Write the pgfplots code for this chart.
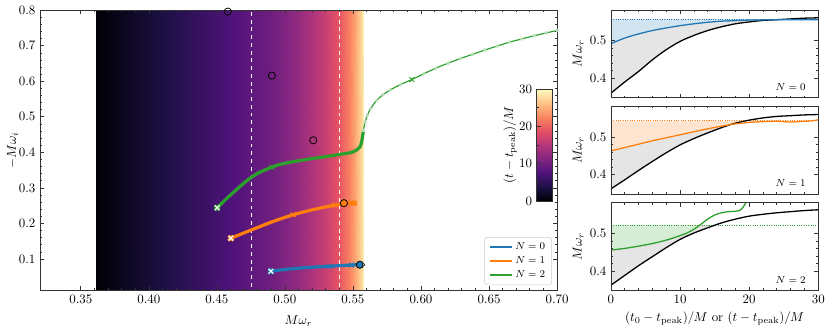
\documentclass[border=0pt]{standalone}
\usepackage{pgfplots}
\pgfplotsset{compat=1.18}
\usepackage{pgfplotstable}
\definecolor{C0}{HTML}{1F77B4}
\definecolor{C1}{HTML}{FF7F0E}
\definecolor{C2}{HTML}{2CA02C}
\pgfplotsset{
  colormap={magma}{rgb255=(0,0,4) rgb255=(28,16,68) rgb255=(79,18,123) rgb255=(129,37,129) rgb255=(181,54,122) rgb255=(229,80,100) rgb255=(251,135,97) rgb255=(254,194,135) rgb255=(252,253,191)},
  mystyle/.style={scale only axis, tick align=inside, major tick length=3pt, minor tick length=1.6pt,
    every tick/.append style={black!80, line width=0.5pt},
    axis line style={black!80, line width=0.6pt}},
  rstyle/.style={mystyle, axis on top, width=160.7pt, height=68pt, xmin=0, xmax=30, ymin=0.348, ymax=0.582,
    xtick={0,10,20,30}, ytick={0.4,0.5}, yticklabels={$0.4$,$0.5$}, minor x tick num=4, minor y tick num=4,
    ylabel={$M\omega_r$}, ylabel style={yshift=-2pt}},
}
% black curves (one per panel)
\pgfplotstableread{
t w
0 0.360
2 0.390
4 0.418
6 0.449
8 0.476
10 0.498
12 0.514
14 0.527
16 0.537
18 0.545
20 0.550
22 0.554
24 0.556
26 0.558
28 0.560
30 0.561
}\blackA
\pgfplotstableread{
t w
0 0.362
2 0.386
4 0.411
6 0.435
8 0.458
10 0.479
12 0.496
14 0.511
16 0.525
18 0.537
20 0.545
22 0.551
24 0.555
26 0.557
28 0.559
30 0.560
}\blackB
\pgfplotstableread{
t w
0 0.362
2 0.388
4 0.414
6 0.438
8 0.462
10 0.484
12 0.501
14 0.515
16 0.528
18 0.538
20 0.546
22 0.551
24 0.555
26 0.558
28 0.561
30 0.563
}\blackC
\pgfplotstableread{
t w
0 0.492
2 0.507
4 0.518
6 0.527
8 0.534
10 0.540
12 0.545
14 0.549
16 0.552
18 0.5535
20 0.555
22 0.5555
24 0.556
26 0.556
28 0.556
30 0.556
}\bluedata
\pgfplotstableread{
t w
0 0.463
2 0.472
4 0.481
6 0.490
8 0.498
10 0.506
12 0.514
14 0.522
16 0.529
18 0.535
20 0.539
22 0.541
24 0.542
25 0.541
26 0.540
27 0.541
28 0.542
29 0.543
30 0.546
}\orangedata
\pgfplotstableread{
t w
0 0.4555
2 0.460
4 0.466
6 0.473
8 0.482
10 0.494
11 0.501
12 0.511
13 0.524
14 0.538
15 0.549
16 0.555
17 0.558
18 0.559
18.7 0.562
19.2 0.572
19.6 0.585
}\greendata
\begin{document}
\begin{tikzpicture}
\useasboundingbox (0,0) rectangle (643.4pt,255pt);
% ---------------- main axis ----------------
\begin{axis}[mystyle, name=main, at={(31pt,30pt)}, anchor=south west, width=400.8pt, height=217.1pt,
  xmin=0.32, xmax=0.70, ymin=0.012, ymax=0.80,
  xtick={0.35,0.40,0.45,0.50,0.55,0.60,0.65,0.70},
  xticklabels={$0.35$,$0.40$,$0.45$,$0.50$,$0.55$,$0.60$,$0.65$,$0.70$},
  ytick={0.1,0.2,0.3,0.4,0.5,0.6,0.7,0.8},
  yticklabels={$0.1$,$0.2$,$0.3$,$0.4$,$0.5$,$0.6$,$0.7$,$0.8$},
  minor x tick num=4, minor y tick num=4,
  xlabel={$M\omega_r$}, ylabel={$-M\omega_i$},
  xlabel style={yshift=-3pt}, ylabel style={yshift=-6pt},
  colormap name=magma, point meta min=0, point meta max=30,
  axis on top,
  legend style={at={(0.99,0.018)}, anchor=south east, font=\footnotesize, rounded corners=2pt,
    draw=black!20, fill=white, fill opacity=0.8, text opacity=1, draw opacity=1},
  legend cell align=left]
\addplot[surf, shader=interp, point meta=explicit, forget plot] table[meta=t]{
x y t
0.361 0 0
0.387 0 2
0.414 0 4
0.441 0 6
0.467 0 8
0.491 0 10
0.506 0 12
0.518 0 14
0.528 0 16
0.536 0 18
0.542 0 20
0.547 0 22
0.551 0 24
0.554 0 26
0.5565 0 28
0.558 0 30

0.361 0.9 0
0.387 0.9 2
0.414 0.9 4
0.441 0.9 6
0.467 0.9 8
0.491 0.9 10
0.506 0.9 12
0.518 0.9 14
0.528 0.9 16
0.536 0.9 18
0.542 0.9 20
0.547 0.9 22
0.551 0.9 24
0.554 0.9 26
0.5565 0.9 28
0.558 0.9 30
};
\addplot[white, dashed, line width=0.6pt, forget plot] coordinates {(0.4755,0) (0.4755,0.9)};
\addplot[white, dashed, line width=0.6pt, forget plot] coordinates {(0.540,0) (0.540,0.9)};
% N=2 thin late-time branch
\addplot[C2, line width=0.9pt, smooth, mark=*, mark size=0.9pt, mark options={C2!35, draw=none}, forget plot] coordinates {
(0.5576,0.462) (0.559,0.485) (0.5605,0.504) (0.563,0.523) (0.5674,0.546) (0.572,0.562) (0.5772,0.575)
(0.585,0.591) (0.5933,0.6047) (0.602,0.621) (0.611,0.637) (0.620,0.651) (0.629,0.664) (0.638,0.676)
(0.647,0.688) (0.656,0.699) (0.665,0.710) (0.674,0.719) (0.683,0.728) (0.692,0.736) (0.700,0.743)};
% thick branches
\addplot[C0, line width=2.5pt, smooth, forget plot] coordinates {
(0.4897,0.0656) (0.500,0.0705) (0.510,0.0740) (0.520,0.0768) (0.533,0.0797) (0.545,0.0822) (0.552,0.0835) (0.5555,0.0840)};
\addplot[C1, line width=2.5pt, smooth, forget plot] coordinates {
(0.4603,0.1586) (0.470,0.1735) (0.4865,0.1985) (0.495,0.2105) (0.5061,0.2245) (0.515,0.2335) (0.525,0.2425) (0.5368,0.2516) (0.543,0.2555)};
\addplot[C2, line width=2.5pt, smooth, forget plot] coordinates {
(0.4502,0.244) (0.455,0.262) (0.460,0.280) (0.465,0.297) (0.470,0.314) (0.475,0.329) (0.480,0.341) (0.485,0.350)
(0.4902,0.358) (0.4963,0.366) (0.505,0.373) (0.513,0.378) (0.5208,0.383) (0.530,0.388) (0.540,0.394)
(0.548,0.399) (0.552,0.405) (0.5551,0.415) (0.5565,0.432) (0.5576,0.458)};
% intermediate x markers
\addplot[only marks, mark=x, mark size=2.6pt, C0, line width=0.8pt, forget plot] coordinates {(0.533,0.0797) (0.549,0.0830)};
\addplot[only marks, mark=x, mark size=2.6pt, C1, line width=0.8pt, forget plot] coordinates {(0.5061,0.2245) (0.5368,0.2516)};
\addplot[only marks, mark=x, mark size=2.6pt, C2, line width=0.8pt, forget plot] coordinates {(0.4902,0.358) (0.5933,0.6047)};
\addplot[only marks, mark=x, mark size=2.4pt, C1, line width=1.8pt, forget plot] coordinates {(0.5485,0.257) (0.5510,0.257)};
% start markers
\addplot[only marks, mark=x, mark size=2.6pt, line width=2.4pt, forget plot, C0] coordinates {(0.4897,0.0656)};
\addplot[only marks, mark=x, mark size=2.6pt, line width=2.4pt, forget plot, C1] coordinates {(0.4603,0.1586)};
\addplot[only marks, mark=x, mark size=2.6pt, line width=2.4pt, forget plot, C2] coordinates {(0.4502,0.244)};
\addplot[only marks, mark=x, mark size=2.6pt, line width=0.9pt, forget plot, white] coordinates {(0.4897,0.0656) (0.4603,0.1586) (0.4502,0.244)};
% QNM circles
\addplot[only marks, mark=o, mark size=2.8pt, black, line width=0.6pt, forget plot] coordinates {(0.458,0.796) (0.4904,0.616) (0.5208,0.434)};
\addplot[only marks, mark=*, mark size=2.8pt, mark options={fill=C1, draw=black, line width=0.6pt}, forget plot] coordinates {(0.5434,0.257)};
\addplot[only marks, mark=*, mark size=2.8pt, mark options={fill=C0, draw=black, line width=0.6pt}, forget plot] coordinates {(0.5551,0.0838)};
\addplot[only marks, mark=*, mark size=1pt, mark options={fill=white, draw=none}, forget plot] coordinates {(0.5578,0.0836)};
\addlegendimage{C0, line width=1.6pt}\addlegendentry{$N=0$}
\addlegendimage{C1, line width=1.6pt}\addlegendentry{$N=1$}
\addlegendimage{C2, line width=1.6pt}\addlegendentry{$N=2$}
\end{axis}
% ---------------- colorbar ----------------
\begin{axis}[mystyle, at={(416pt,99.2pt)}, anchor=south west, width=12.1pt, height=86.8pt,
  xmin=0, xmax=1, ymin=0, ymax=30, xtick=\empty, ytick={0,10,20,30}, minor y tick num=1,
  ytick pos=left, yticklabel pos=left, ylabel={$(t-t_{\rm peak})/M$}, ylabel style={yshift=-5pt},
  colormap name=magma, point meta min=0, point meta max=30, axis on top]
\addplot[surf, shader=interp, point meta=explicit] table[meta=t]{
x y t
0 0 0
1 0 0

0 3.75 3.75
1 3.75 3.75

0 7.5 7.5
1 7.5 7.5

0 11.25 11.25
1 11.25 11.25

0 15 15
1 15 15

0 18.75 18.75
1 18.75 18.75

0 22.5 22.5
1 22.5 22.5

0 26.25 26.25
1 26.25 26.25

0 30 30
1 30 30
};
\end{axis}
% ---------------- right panels ----------------
\begin{axis}[rstyle, at={(473.6pt,179.3pt)}, anchor=south west, xticklabels={}]
\addplot[fill=C0!20, draw=none] coordinates {(0,0.557) (25,0.557)} \closedcycle;
\addplot[fill=gray!20, draw=none, smooth, restrict x to domain=0:25] table[x=t, y=w] {\bluedata} \closedcycle;
\addplot[fill=white, draw=none, smooth] table[x=t, y=w] {\blackA} \closedcycle;
\addplot[C0, densely dotted, line width=0.8pt] coordinates {(0,0.557) (30,0.557)};
\addplot[black, line width=1pt, smooth] table[x=t, y=w] {\blackA};
\addplot[C0, line width=1pt, smooth] table[x=t, y=w] {\bluedata};
\node[anchor=south east, font=\footnotesize, inner sep=0pt] at (rel axis cs:0.94,0.08) {$N=0$};
\end{axis}
\begin{axis}[rstyle, at={(473.6pt,104.6pt)}, anchor=south west, xticklabels={}]
\addplot[fill=C1!20, draw=none] coordinates {(0,0.5434) (29,0.5434)} \closedcycle;
\addplot[fill=white, draw=none, smooth, restrict x to domain=0:29] table[x=t, y=w] {\orangedata} \closedcycle;
\addplot[fill=gray!20, draw=none, smooth, restrict x to domain=0:18] table[x=t, y=w] {\orangedata} \closedcycle;
\addplot[fill=white, draw=none, smooth, restrict x to domain=0:20] table[x=t, y=w] {\blackB} \closedcycle;
\addplot[C1, densely dotted, line width=0.8pt] coordinates {(0,0.5434) (30,0.5434)};
\addplot[black, line width=1pt, smooth] table[x=t, y=w] {\blackB};
\addplot[C1, line width=1pt, smooth] table[x=t, y=w] {\orangedata};
\node[anchor=south east, font=\footnotesize, inner sep=0pt] at (rel axis cs:0.94,0.08) {$N=1$};
\end{axis}
\begin{axis}[rstyle, at={(473.6pt,29.9pt)}, anchor=south west,
  xticklabels={$0$,$10$,$20$,$30$},
  xlabel={$(t_0-t_{\rm peak})/M$ or $(t-t_{\rm peak})/M$}]
\addplot[fill=C2!20, draw=none] coordinates {(0,0.5215) (13,0.5215)} \closedcycle;
\addplot[fill=gray!20, draw=none] coordinates {(12.9,0.5215) (15.2,0.5215)} \closedcycle;
\addplot[fill=gray!20, draw=none, smooth, restrict x to domain=0:13] table[x=t, y=w] {\greendata} \closedcycle;
\addplot[fill=white, draw=none, smooth] table[x=t, y=w] {\blackC} \closedcycle;
\addplot[C2, densely dotted, line width=0.8pt] coordinates {(0,0.5215) (30,0.5215)};
\addplot[black, line width=1pt, smooth] table[x=t, y=w] {\blackC};
\addplot[C2, line width=1pt, smooth] table[x=t, y=w] {\greendata};
\node[anchor=south east, font=\footnotesize, inner sep=0pt] at (rel axis cs:0.94,0.08) {$N=2$};
\end{axis}
\end{tikzpicture}
\end{document}
